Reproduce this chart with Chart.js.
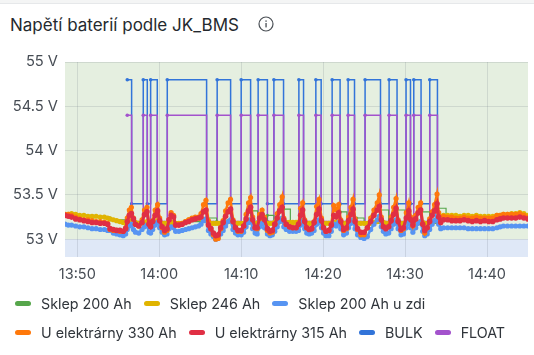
<!DOCTYPE html>
<html>
<head>
<meta charset="utf-8">
<script src="https://cdn.jsdelivr.net/npm/chart.js@4/dist/chart.umd.min.js"></script>
<style>
  html, body { margin: 0; padding: 0; background: #fff; }
  body { width: 534px; height: 355px; overflow: hidden; position: relative; font-family: Inter, sans-serif; }
  #strip { position: absolute; left: 0; top: 0; width: 534px; height: 3px; background: #f4f5f5; border-bottom: 1px solid #e6e8ea; }
  #title { position: absolute; left: 10px; top: 14px; font-size: 17px; font-weight: 400; line-height: 22px; color: #24292e; }
  #info { position: absolute; left: 257px; top: 15px; }
  #chart { position: absolute; left: 0; top: 0; }
  #legend { position: absolute; left: 15px; top: 288.5px; width: 515px; display: flex; flex-wrap: wrap; column-gap: 12px; color: #30353b; font-size: 14.3px; line-height: 29px; }
  #legend div { display: flex; align-items: center; }
  #legend i { display: block; width: 16px; height: 5px; border-radius: 2.5px; margin-right: 10px; }
</style>
</head>
<body>
<div id="strip"></div>
<div id="title">Napětí baterií podle JK_BMS</div>
<svg id="info" width="18" height="18" viewBox="0 0 18 18">
  <circle cx="9" cy="9" r="7" fill="none" stroke="#4a4f55" stroke-width="1.2"/>
  <rect x="8.4" y="8" width="1.3" height="4.4" fill="#4a4f55"/>
  <rect x="8.4" y="5.4" width="1.3" height="1.4" fill="#4a4f55"/>
</svg>
<canvas id="chart" width="534" height="355"></canvas>
<div id="legend"></div>
<script>
var xTicks = [830, 840, 850, 860, 870, 880];
var yTicks = [53, 53.5, 54, 54.5, 55];

// minutes since midnight
var minutes = [
  828.5,828.9,829.3,829.8,830.3,830.8,831.3,831.8,832.3,832.8,
  833.3,833.7,834.0,834.4,834.8,835.2,835.6,835.9,836.1,836.35,
  836.6,836.85,837.1,837.5,837.9,838.2,838.5,838.75,838.95,839.2,
  839.5,839.8,840.05,840.35,840.65,840.95,841.2,841.45,841.75,842.0,
  842.4,842.8,843.2,843.6,844.0,844.4,844.8,845.1,845.4,845.7,
  846.0,846.3,846.6,846.9,847.2,847.5,847.8,848.1,848.4,848.7,
  849.0,849.3,849.6,850.0,850.3,850.6,850.9,851.15,851.4,851.7,
  851.95,852.25,852.55,852.85,853.2,853.5,853.8,854.1,854.4,854.7,
  855.0,855.2,855.5,855.9,856.3,856.7,857.0,857.25,857.5,857.75,
  858.0,858.3,858.6,858.9,859.2,859.5,859.8,860.05,860.35,860.7,
  861.0,861.3,861.6,861.9,862.15,862.5,862.85,863.1,863.4,863.65,
  863.9,864.2,864.6,865.0,865.4,865.8,866.2,866.6,866.85,867.1,
  867.35,867.65,868.0,868.3,868.6,868.9,869.15,869.5,869.8,870.15,
  870.45,870.7,870.95,871.3,871.6,871.9,872.15,872.4,872.7,873.0,
  873.3,873.6,873.9,874.1,874.35,874.7,875.2,875.7,876.2,876.7,
  877.2,877.7,878.2,878.7,879.2,879.7,880.2,880.7,881.2,881.6,
  882.0,882.5,883.0,883.5,884.0,884.5,885.0
];
var sklep246 = [
  53.27,53.28,53.29,53.28,53.27,53.27,53.26,53.26,53.26,53.25,
  53.25,53.24,53.23,53.22,53.21,53.20,53.19,53.18,53.18,53.20,
  53.21,53.19,53.19,53.18,53.18,53.19,53.20,53.19,53.18,53.18,
  53.19,53.21,53.19,53.18,53.18,53.18,53.19,53.19,53.19,53.18,
  53.18,53.18,53.20,53.22,53.23,53.24,53.24,53.23,53.22,53.22,
  53.19,53.18,53.18,53.18,53.18,53.18,53.18,53.19,53.20,53.21,
  53.19,53.18,53.18,53.18,53.18,53.19,53.20,53.22,53.19,53.18,
  53.18,53.19,53.19,53.19,53.18,53.18,53.18,53.19,53.19,53.20,
  53.22,53.20,53.19,53.19,53.19,53.19,53.19,53.20,53.21,53.19,
  53.18,53.18,53.18,53.18,53.19,53.21,53.19,53.18,53.18,53.18,
  53.18,53.19,53.19,53.20,53.19,53.18,53.18,53.19,53.19,53.21,
  53.19,53.18,53.18,53.18,53.18,53.18,53.19,53.20,53.21,53.20,
  53.19,53.18,53.18,53.19,53.19,53.21,53.19,53.18,53.18,53.19,
  53.20,53.19,53.18,53.19,53.19,53.20,53.19,53.18,53.18,53.19,
  53.19,53.21,53.23,53.25,53.26,53.27,53.27,53.27,53.27,53.26,
  53.27,53.27,53.26,53.27,53.26,53.26,53.26,53.26,53.27,53.27,
  53.28,53.28,53.29,53.29,53.30,53.29,53.27
];
var sklepZdi = [
  53.17,53.16,53.16,53.15,53.14,53.14,53.13,53.12,53.12,53.11,
  53.11,53.10,53.10,53.07,53.06,53.05,53.04,53.06,53.11,53.15,
  53.17,53.11,53.08,53.07,53.11,53.14,53.16,53.08,53.07,53.11,
  53.16,53.19,53.13,53.08,53.05,53.06,53.12,53.14,53.13,53.09,
  53.09,53.10,53.11,53.12,53.13,53.14,53.15,53.17,53.21,53.23,
  53.10,53.06,53.03,53.00,53.02,53.06,53.10,53.15,53.20,53.22,
  53.11,53.07,53.05,53.05,53.08,53.14,53.19,53.22,53.12,53.07,
  53.06,53.14,53.18,53.13,53.06,53.04,53.05,53.09,53.14,53.20,
  53.24,53.14,53.11,53.09,53.09,53.09,53.10,53.16,53.21,53.12,
  53.07,53.06,53.07,53.10,53.17,53.22,53.13,53.07,53.04,53.04,
  53.09,53.17,53.15,53.19,53.12,53.05,53.07,53.13,53.18,53.22,
  53.12,53.05,53.02,53.01,53.03,53.11,53.17,53.22,53.26,53.14,
  53.09,53.06,53.07,53.12,53.17,53.22,53.12,53.05,53.06,53.13,
  53.19,53.13,53.08,53.13,53.18,53.20,53.09,53.04,53.06,53.11,
  53.17,53.21,53.27,53.17,53.12,53.13,53.13,53.13,53.13,53.13,
  53.13,53.12,53.12,53.12,53.12,53.12,53.12,53.12,53.13,53.14,
  53.15,53.15,53.15,53.15,53.15,53.15,53.15
];
var elektrarna330 = [
  53.28,53.28,53.27,53.25,53.23,53.22,53.22,53.21,53.20,53.20,
  53.19,53.18,53.11,53.10,53.10,53.09,53.09,53.13,53.24,53.33,
  53.36,53.24,53.17,53.15,53.22,53.33,53.36,53.18,53.15,53.21,
  53.33,53.39,53.24,53.13,53.08,53.10,53.22,53.30,53.27,53.17,
  53.17,53.18,53.20,53.22,53.24,53.25,53.25,53.29,53.39,53.44,
  53.21,53.12,53.05,53.00,53.01,53.12,53.21,53.32,53.41,53.45,
  53.22,53.14,53.09,53.09,53.15,53.28,53.41,53.47,53.25,53.13,
  53.12,53.28,53.33,53.25,53.10,53.07,53.08,53.18,53.29,53.39,
  53.48,53.24,53.17,53.14,53.13,53.13,53.18,53.35,53.41,53.22,
  53.13,53.11,53.12,53.20,53.37,53.45,53.24,53.13,53.09,53.10,
  53.17,53.38,53.33,53.39,53.22,53.10,53.12,53.25,53.36,53.45,
  53.23,53.11,53.05,53.05,53.13,53.24,53.33,53.41,53.50,53.25,
  53.15,53.13,53.15,53.25,53.36,53.46,53.22,53.10,53.12,53.30,
  53.41,53.25,53.15,53.27,53.36,53.41,53.18,53.07,53.13,53.23,
  53.31,53.39,53.51,53.30,53.22,53.26,53.25,53.25,53.24,53.24,
  53.25,53.24,53.24,53.25,53.24,53.24,53.24,53.24,53.27,53.27,
  53.28,53.28,53.28,53.28,53.29,53.27,53.25
];
var elektrarna315 = [
  53.27,53.26,53.25,53.23,53.22,53.21,53.20,53.19,53.19,53.18,
  53.18,53.17,53.12,53.11,53.10,53.10,53.09,53.12,53.20,53.27,
  53.29,53.23,53.17,53.15,53.19,53.28,53.31,53.17,53.14,53.20,
  53.27,53.32,53.21,53.14,53.10,53.12,53.22,53.27,53.25,53.16,
  53.16,53.17,53.19,53.20,53.22,53.23,53.24,53.25,53.31,53.33,
  53.16,53.12,53.07,53.04,53.05,53.13,53.19,53.26,53.31,53.34,
  53.20,53.13,53.10,53.10,53.15,53.23,53.32,53.36,53.22,53.13,
  53.13,53.24,53.28,53.22,53.12,53.09,53.10,53.17,53.24,53.32,
  53.36,53.22,53.17,53.14,53.13,53.13,53.17,53.27,53.33,53.20,
  53.13,53.11,53.12,53.19,53.28,53.34,53.21,53.13,53.09,53.10,
  53.16,53.27,53.25,53.30,53.20,53.11,53.13,53.21,53.28,53.34,
  53.20,53.12,53.08,53.08,53.13,53.20,53.27,53.33,53.37,53.22,
  53.14,53.12,53.14,53.21,53.28,53.35,53.20,53.11,53.13,53.24,
  53.32,53.22,53.16,53.23,53.30,53.33,53.17,53.10,53.13,53.20,
  53.27,53.32,53.40,53.25,53.19,53.22,53.22,53.21,53.21,53.21,
  53.22,53.21,53.20,53.21,53.20,53.21,53.20,53.20,53.22,53.23,
  53.24,53.24,53.24,53.24,53.25,53.24,53.23
];

// Sklep 200 Ah reports rarely, so it has its own time list
var sklep200Minutes = [828.5,832.0,834.0,836.6,845.8,847.0,851.15,852.0,853.2,854.0,855.17,856.0,862.1,862.9,864.1,865.0,867.0,868.0,869.0,870.0,872.0,873.0,874.0,875.0,885.0];
var sklep200 = [53.27,53.25,53.22,53.2,53.24,53.2,53.32,53.2,53.27,53.2,53.34,53.18,53.31,53.2,53.24,53.18,53.33,53.18,53.33,53.18,53.31,53.18,53.35,53.25,53.27];

var chargeMinutes = [836.1,836.63,838.05,838.54,838.95,839.76,840.98,845.78,847.07,848.71,850,851.15,852.07,853.2,853.99,855.17,857.04,857.61,859.11,859.76,861.1,862.07,863.05,863.83,865.12,867,868.05,869.02,870.12,870.66,871.06,871.95,873.01,873.95];
var bulk = [54.8,53.4,54.8,53.4,54.8,53.4,54.8,53.4,54.8,53.4,54.8,53.4,54.8,53.4,54.8,53.4,54.8,53.4,54.8,53.4,54.8,53.4,54.8,53.4,54.8,53.4,54.8,53.4,54.8,53.4,54.8,53.4,54.8,53.4];
var float_ = [54.4,53.2,54.4,53.2,54.4,53.2,54.4,53.2,54.4,53.2,54.4,53.2,54.4,53.2,54.4,53.2,54.4,53.2,54.4,53.2,54.4,53.2,54.4,53.2,54.4,53.2,54.4,53.2,54.4,53.2,54.4,53.2,54.4,53.2];

var bands = [
  { from: 53, to: 55, color: '#e5efe0' },
  { from: 52.8, to: 53, color: '#dfe8f7' }
];

function pairs(xs, ys) {
  return xs.map(function (x, i) { return { x: x, y: ys[i] }; });
}

function clock(v) {
  var h = Math.floor(v / 60), m = v % 60;
  return h + ':' + (m < 10 ? '0' : '') + m;
}

var bandPlugin = {
  id: 'bands',
  beforeDraw: function (chart) {
    var a = chart.chartArea, y = chart.scales.y, c = chart.ctx;
    bands.forEach(function (b) {
      c.fillStyle = b.color;
      c.fillRect(a.left, y.getPixelForValue(b.to), a.right - a.left, y.getPixelForValue(b.from) - y.getPixelForValue(b.to));
    });
  }
};

function line(label, color, xs, ys, order, width, radius, stepped) {
  return {
    label: label, data: pairs(xs, ys), order: order, stepped: stepped,
    borderColor: color, backgroundColor: color, borderWidth: width,
    pointRadius: radius, pointBorderWidth: 0, tension: 0
  };
}

var datasets = [
  line('Sklep 200 Ah', '#56a64b', sklep200Minutes, sklep200, 5, 1.2, 1.5, true),
  line('Sklep 246 Ah', '#e0b400', minutes, sklep246, 4, 2.5, 2.6, false),
  line('Sklep 200 Ah u zdi', '#5794f2', minutes, sklepZdi, 3, 2.5, 2.6, false),
  line('U elektrárny 330 Ah', '#ff780a', minutes, elektrarna330, 2, 2.5, 2.6, false),
  line('U elektrárny 315 Ah', '#e02f44', minutes, elektrarna315, 1, 3, 2.8, false),
  line('BULK', '#3274d9', chargeMinutes, bulk, 7, 1.5, 1.8, true),
  line('FLOAT', '#a352cc', chargeMinutes, float_, 6, 1.5, 1.8, true)
];

new Chart(document.getElementById('chart'), {
  type: 'line',
  data: { datasets: datasets },
  plugins: [bandPlugin],
  options: {
    responsive: false,
    animation: false,
    events: [],
    layout: { padding: { top: 62, right: 6, left: 0, bottom: 0 } },
    plugins: { legend: { display: false }, tooltip: { enabled: false } },
    scales: {
      x: {
        type: 'linear', min: 828.5, max: 885,
        afterBuildTicks: function (s) { s.ticks = xTicks.map(function (v) { return { value: v }; }); },
        afterFit: function (s) { s.height = 98; },
        grid: { color: 'rgba(90,100,110,0.16)', drawTicks: false },
        border: { display: false },
        ticks: {
          autoSkip: false, maxRotation: 0, padding: 9, color: '#464c54',
          font: { family: 'Inter', size: 14.5 },
          callback: function (v) { return clock(v); }
        }
      },
      y: {
        min: 52.8, max: 55,
        afterBuildTicks: function (s) { s.ticks = yTicks.map(function (v) { return { value: v }; }); },
        afterFit: function (s) { s.width = 65; },
        grid: { color: 'rgba(90,100,110,0.16)', drawTicks: false },
        border: { display: false },
        ticks: {
          padding: 7, color: '#464c54',
          font: { family: 'Inter', size: 14.7 },
          callback: function (v) { return v + ' V'; }
        }
      }
    }
  }
});

var legend = document.getElementById('legend');
datasets.forEach(function (d) {
  var item = document.createElement('div');
  var swatch = document.createElement('i');
  swatch.style.background = d.borderColor;
  item.appendChild(swatch);
  item.appendChild(document.createTextNode(d.label));
  legend.appendChild(item);
});
</script>
</body>
</html>
